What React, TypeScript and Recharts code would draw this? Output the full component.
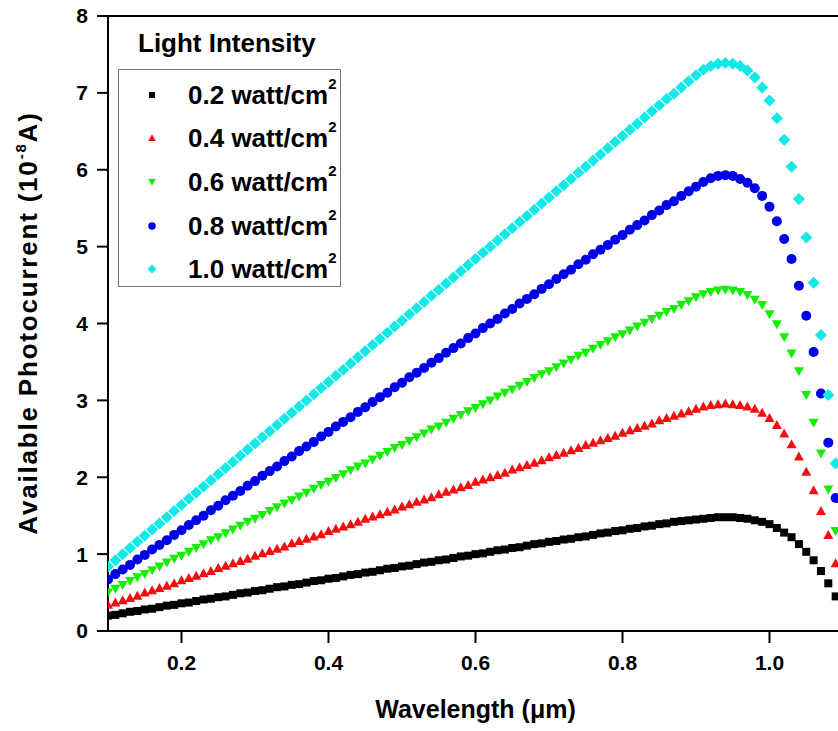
import React from "react";
import {
  ScatterChart,
  Scatter,
  XAxis,
  YAxis,
  Legend,
  ReferenceLine,
  Label,
} from "recharts";

const FONT = "'Liberation Sans', Arial, sans-serif";

// wavelength samples (µm)
const wavelengths = [
  0.1, 0.11, 0.12, 0.13, 0.14, 0.15, 0.16, 0.17, 0.18, 0.19,
  0.2, 0.21, 0.22, 0.23, 0.24, 0.25, 0.26, 0.27, 0.28, 0.29,
  0.3, 0.31, 0.32, 0.33, 0.34, 0.35, 0.36, 0.37, 0.38, 0.39,
  0.4, 0.41, 0.42, 0.43, 0.44, 0.45, 0.46, 0.47, 0.48, 0.49,
  0.5, 0.51, 0.52, 0.53, 0.54, 0.55, 0.56, 0.57, 0.58, 0.59,
  0.6, 0.61, 0.62, 0.63, 0.64, 0.65, 0.66, 0.67, 0.68, 0.69,
  0.7, 0.71, 0.72, 0.73, 0.74, 0.75, 0.76, 0.77, 0.78, 0.79,
  0.8, 0.81, 0.82, 0.83, 0.84, 0.85, 0.86, 0.87, 0.88, 0.89,
  0.9, 0.91, 0.92, 0.93, 0.94, 0.95, 0.96, 0.97, 0.98, 0.99,
  1.0, 1.01, 1.02, 1.03, 1.04, 1.05, 1.06, 1.07, 1.08, 1.09,
];

// photocurrent (1e-8 A) per intensity
const i02 = [
  0.2, 0.21, 0.23, 0.25, 0.26, 0.28, 0.29, 0.31, 0.33, 0.34,
  0.36, 0.37, 0.39, 0.41, 0.42, 0.44, 0.45, 0.47, 0.49, 0.5,
  0.52, 0.53, 0.55, 0.57, 0.58, 0.6, 0.61, 0.63, 0.65, 0.66,
  0.68, 0.69, 0.71, 0.73, 0.74, 0.76, 0.77, 0.79, 0.81, 0.82,
  0.84, 0.85, 0.87, 0.89, 0.9, 0.92, 0.93, 0.95, 0.97, 0.98,
  1.0, 1.01, 1.03, 1.05, 1.06, 1.08, 1.09, 1.11, 1.13, 1.14,
  1.16, 1.17, 1.19, 1.2, 1.22, 1.23, 1.25, 1.27, 1.28, 1.3,
  1.31, 1.33, 1.34, 1.36, 1.37, 1.39, 1.4, 1.42, 1.43, 1.44,
  1.45, 1.46, 1.47, 1.48, 1.48, 1.48, 1.47, 1.46, 1.44, 1.42,
  1.39, 1.34, 1.28, 1.22, 1.13, 1.03, 0.92, 0.78, 0.62, 0.45,
];
const i04 = [
  0.34, 0.37, 0.4, 0.43, 0.46, 0.5, 0.53, 0.56, 0.59, 0.62,
  0.66, 0.69, 0.72, 0.75, 0.78, 0.82, 0.85, 0.88, 0.91, 0.94,
  0.98, 1.01, 1.04, 1.07, 1.1, 1.14, 1.17, 1.2, 1.23, 1.26,
  1.3, 1.33, 1.36, 1.39, 1.42, 1.46, 1.49, 1.52, 1.55, 1.58,
  1.62, 1.65, 1.68, 1.71, 1.74, 1.78, 1.81, 1.84, 1.87, 1.9,
  1.94, 1.97, 2.0, 2.03, 2.06, 2.1, 2.13, 2.16, 2.19, 2.22,
  2.26, 2.29, 2.32, 2.35, 2.38, 2.42, 2.45, 2.48, 2.51, 2.54,
  2.58, 2.61, 2.64, 2.67, 2.7, 2.74, 2.77, 2.8, 2.83, 2.86,
  2.89, 2.92, 2.94, 2.95, 2.96, 2.95, 2.94, 2.92, 2.89, 2.84,
  2.77, 2.68, 2.57, 2.43, 2.27, 2.07, 1.83, 1.56, 1.25, 0.88,
];
const i06 = [
  0.5, 0.55, 0.6, 0.65, 0.7, 0.74, 0.79, 0.84, 0.89, 0.94,
  0.98, 1.03, 1.08, 1.13, 1.18, 1.22, 1.27, 1.32, 1.37, 1.42,
  1.46, 1.51, 1.56, 1.61, 1.66, 1.7, 1.75, 1.8, 1.85, 1.9,
  1.94, 1.99, 2.04, 2.09, 2.14, 2.18, 2.23, 2.28, 2.33, 2.38,
  2.42, 2.47, 2.52, 2.57, 2.62, 2.66, 2.71, 2.76, 2.81, 2.86,
  2.9, 2.95, 3.0, 3.05, 3.1, 3.14, 3.19, 3.24, 3.29, 3.34,
  3.38, 3.43, 3.48, 3.53, 3.58, 3.62, 3.67, 3.72, 3.77, 3.82,
  3.86, 3.91, 3.96, 4.01, 4.06, 4.1, 4.15, 4.19, 4.24, 4.29,
  4.34, 4.38, 4.41, 4.43, 4.44, 4.43, 4.41, 4.37, 4.31, 4.24,
  4.12, 3.99, 3.82, 3.61, 3.38, 3.07, 2.71, 2.31, 1.84, 1.3,
];
const i08 = [
  0.67, 0.74, 0.8, 0.86, 0.93, 0.99, 1.06, 1.12, 1.18, 1.25,
  1.31, 1.38, 1.44, 1.5, 1.57, 1.63, 1.7, 1.76, 1.82, 1.89,
  1.95, 2.02, 2.08, 2.14, 2.21, 2.27, 2.34, 2.4, 2.46, 2.53,
  2.59, 2.66, 2.72, 2.78, 2.85, 2.91, 2.98, 3.04, 3.1, 3.17,
  3.23, 3.3, 3.36, 3.42, 3.49, 3.55, 3.62, 3.68, 3.74, 3.81,
  3.87, 3.94, 4.0, 4.06, 4.13, 4.19, 4.26, 4.32, 4.38, 4.45,
  4.51, 4.58, 4.64, 4.7, 4.77, 4.83, 4.9, 4.96, 5.02, 5.09,
  5.15, 5.22, 5.28, 5.34, 5.41, 5.47, 5.54, 5.59, 5.66, 5.72,
  5.78, 5.84, 5.89, 5.92, 5.93, 5.92, 5.88, 5.83, 5.76, 5.66,
  5.52, 5.33, 5.1, 4.84, 4.49, 4.1, 3.63, 3.09, 2.45, 1.73,
];
const i10 = [
  0.84, 0.92, 1.0, 1.08, 1.16, 1.24, 1.32, 1.4, 1.48, 1.56,
  1.64, 1.72, 1.8, 1.88, 1.96, 2.04, 2.12, 2.2, 2.28, 2.36,
  2.44, 2.52, 2.6, 2.68, 2.76, 2.84, 2.92, 3.0, 3.08, 3.16,
  3.24, 3.32, 3.4, 3.48, 3.56, 3.64, 3.72, 3.8, 3.88, 3.96,
  4.04, 4.12, 4.2, 4.28, 4.36, 4.44, 4.52, 4.6, 4.68, 4.76,
  4.84, 4.92, 5.0, 5.08, 5.16, 5.24, 5.32, 5.4, 5.48, 5.56,
  5.64, 5.72, 5.8, 5.88, 5.96, 6.04, 6.12, 6.2, 6.28, 6.36,
  6.44, 6.52, 6.6, 6.68, 6.76, 6.84, 6.92, 6.99, 7.07, 7.15,
  7.23, 7.3, 7.35, 7.38, 7.39, 7.38, 7.35, 7.29, 7.2, 7.07,
  6.9, 6.67, 6.39, 6.04, 5.62, 5.12, 4.53, 3.85, 3.07, 2.18,
];

const xTicks = [0.2, 0.4, 0.6, 0.8, 1.0];
const yTicks = [0, 1, 2, 3, 4, 5, 6, 7, 8];
const seriesNames = ["0.2", "0.4", "0.6", "0.8", "1.0"];

type Kind = "square" | "up" | "down" | "circle" | "diamond";

const series: { name: string; values: number[]; color: string; kind: Kind }[] = [
  { name: seriesNames[0], values: i02, color: "#000000", kind: "square" },
  { name: seriesNames[1], values: i04, color: "#f01010", kind: "up" },
  { name: seriesNames[2], values: i06, color: "#11f000", kind: "down" },
  { name: seriesNames[3], values: i08, color: "#0000e8", kind: "circle" },
  { name: seriesNames[4], values: i10, color: "#11e8e8", kind: "diamond" },
];

function Marker({ cx, cy, kind, color, s = 1 }: { cx: number; cy: number; kind: Kind; color: string; s?: number }) {
  if (cx == null || cy == null) return null;
  switch (kind) {
    case "square":
      return <rect x={cx - 4 * s} y={cy - 4 * s} width={8 * s} height={8 * s} fill={color} />;
    case "up":
      return <polygon points={`${cx},${cy - 5 * s} ${cx + 5 * s},${cy + 4 * s} ${cx - 5 * s},${cy + 4 * s}`} fill={color} />;
    case "down":
      return <polygon points={`${cx},${cy + 5 * s} ${cx + 5 * s},${cy - 4 * s} ${cx - 5 * s},${cy - 4 * s}`} fill={color} />;
    case "circle":
      return <circle cx={cx} cy={cy} r={5 * s} fill={color} />;
    default:
      return <polygon points={`${cx},${cy - 6 * s} ${cx + 6 * s},${cy} ${cx},${cy + 6 * s} ${cx - 6 * s},${cy}`} fill={color} />;
  }
}

const rowBaselines = [104, 147, 191, 235, 278];

function LegendBox() {
  return (
    <svg width={360} height={300} style={{ display: "block" }}>
      <text x={138} y={52} fontFamily={FONT} fontWeight="bold" fontSize={26} fill="#000">
        Light Intensity
      </text>
      <rect x={118.5} y={69.5} width={222} height={217} fill="none" stroke="#777" strokeWidth={1} />
      {series.map((s, i) => (
        <g key={s.name}>
          <Marker cx={152} cy={rowBaselines[i] - 9} kind={s.kind} color={s.color} s={0.75} />
          <text x={188} y={rowBaselines[i]} fontFamily={FONT} fontWeight="bold" fontSize={26} fill="#000">
            {s.name} watt/cm
            <tspan fontSize={15} dy={-15}>2</tspan>
          </text>
        </g>
      ))}
    </svg>
  );
}

function YTitle() {
  const cy = 323;
  const x = 37;
  return (
    <text
      x={x}
      y={cy}
      transform={`rotate(-90, ${x}, ${cy})`}
      textAnchor="middle"
      fontFamily={FONT}
      fontWeight="bold"
      fontSize={26}
      letterSpacing={1.8}
      fill="#000"
    >
      Available Photocurrent (10
      <tspan fontSize={15} dy={-11}>-8</tspan>
      <tspan dy={11}>A)</tspan>
    </text>
  );
}

export default function App() {
  return (
    <div style={{ position: "absolute", left: 0, top: 0, width: 838, height: 731, overflow: "hidden", background: "#fff" }}>
      <ScatterChart width={845} height={731} margin={{ top: 16, right: 2, bottom: 0, left: 0 }}>
        <XAxis
          type="number"
          dataKey="x"
          domain={[0.1, 1.1]}
          allowDataOverflow
          ticks={xTicks}
          tickFormatter={(v: number) => v.toFixed(1)}
          height={100}
          tickSize={12}
          tickMargin={12}
          axisLine={{ stroke: "#000", strokeWidth: 2 }}
          tickLine={{ stroke: "#000", strokeWidth: 2 }}
          tick={{ fill: "#000", fontSize: 21, fontWeight: "bold", fontFamily: FONT }}
        >
          <Label
            value={"Wavelength (\u03bcm)"}
            position="insideBottom"
            offset={13}
            style={{ fill: "#000", fontSize: 25, fontWeight: "bold", fontFamily: FONT }}
          />
        </XAxis>
        <YAxis
          type="number"
          dataKey="y"
          domain={[0, 8]}
          ticks={yTicks}
          width={108}
          tickSize={11}
          tickMargin={9}
          axisLine={{ stroke: "#000", strokeWidth: 2 }}
          tickLine={{ stroke: "#000", strokeWidth: 2 }}
          tick={{ fill: "#000", fontSize: 21, fontWeight: "bold", fontFamily: FONT }}
        >
          <Label content={<YTitle />} />
        </YAxis>
        <ReferenceLine y={8} stroke="#000" strokeWidth={2} />
        <Legend
          layout="vertical"
          align="center"
          verticalAlign="middle"
          wrapperStyle={{ position: "absolute", left: 0, top: 0, width: 360, height: 300 }}
          content={() => <LegendBox />}
        />
        {series.map((s) => (
          <Scatter
            key={s.name}
            name={s.name}
            data={wavelengths.map((x, i) => ({ x, y: s.values[i] }))}
            isAnimationActive={false}
            shape={(p: any) => <Marker cx={p.cx} cy={p.cy} kind={s.kind} color={s.color} />}
          />
        ))}
      </ScatterChart>
    </div>
  );
}
